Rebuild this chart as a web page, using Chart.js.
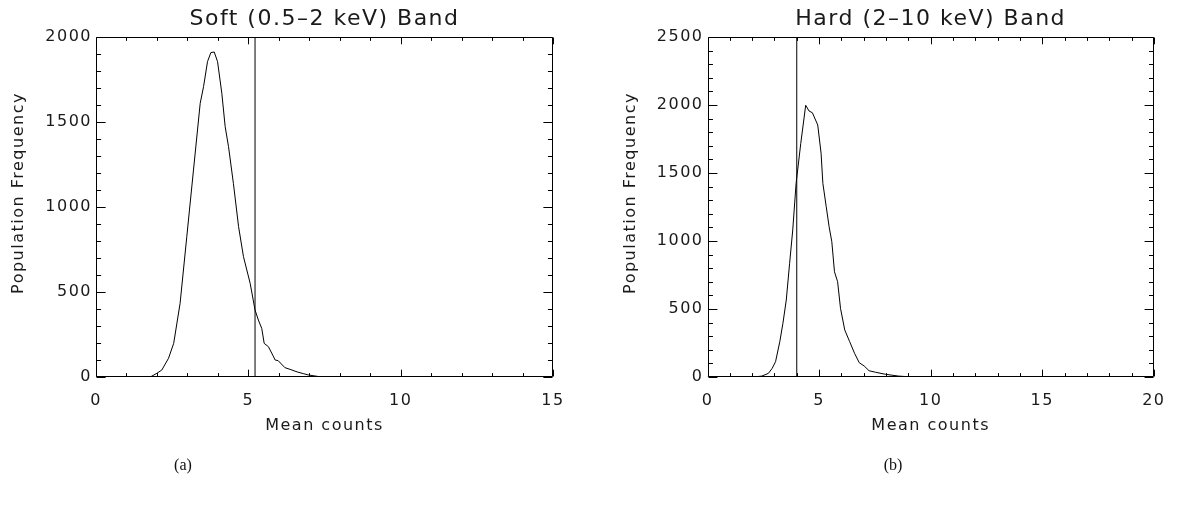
<!DOCTYPE html>
<html><head><meta charset="utf-8">
<script src="https://cdn.jsdelivr.net/npm/chart.js@4"></script>
<style>
html,body{margin:0;padding:0;background:#fff;}
#wrap{position:relative;width:1178px;height:512px;overflow:hidden;background:#fff;}
.pane{position:absolute;top:0;width:589px;height:512px;}
.cap{position:absolute;top:456px;font-family:"Liberation Serif","DejaVu Serif",serif;font-size:16px;color:#111;transform:translateX(-50%);}
</style></head><body>
<div id="wrap">
<div class="pane" style="left:0"><canvas id="c1" width="589" height="512"></canvas></div>
<div class="pane" style="left:589px"><canvas id="c2" width="589" height="512"></canvas></div>
<div class="cap" style="left:183px">(a)</div>
<div class="cap" style="left:893px">(b)</div>
</div>
<script>
// ---- Data ----
const softMeanCounts = [0, 1.78, 2.0, 2.16, 2.38, 2.55, 2.76, 2.98, 3.2, 3.42, 3.53, 3.66, 3.77, 3.88, 3.99, 4.13, 4.24, 4.35, 4.51, 4.68, 4.84, 5.06, 5.22, 5.33, 5.44, 5.52, 5.66, 5.8, 5.88, 5.98, 6.2, 6.37, 6.6, 6.8, 6.97, 7.4, 13.2];
const softFrequency  = [0, 0, 22, 41, 110, 198, 433, 825, 1218, 1610, 1708, 1855, 1908, 1912, 1855, 1669, 1472, 1355, 1139, 884, 708, 551, 394, 335, 286, 198, 178, 129, 100, 96, 55, 45, 30, 20, 12, 0, 0];
const softThreshold = 5.22;

const hardMeanCounts = [0, 2.07, 2.44, 2.73, 2.9, 3.05, 3.24, 3.38, 3.53, 3.68, 3.82, 3.97, 4.04, 4.18, 4.4, 4.55, 4.7, 4.94, 5.09, 5.17, 5.32, 5.45, 5.57, 5.69, 5.83, 5.96, 6.15, 6.37, 6.59, 6.8, 7.02, 7.24, 7.53, 7.97, 8.55, 9.14, 9.6];
const hardFrequency  = [0, 0, 7, 27, 64, 113, 260, 395, 566, 836, 1081, 1424, 1522, 1718, 1998, 1956, 1943, 1853, 1645, 1424, 1252, 1105, 995, 774, 701, 505, 346, 260, 174, 105, 81, 46, 35, 20, 7, 0, 0];
const hardThreshold = 4.0;

const softXTicks = [0, 5, 10, 15];
const softYTicks = [0, 500, 1000, 1500, 2000];
const hardXTicks = [0, 5, 10, 15, 20];
const hardYTicks = [0, 500, 1000, 1500, 2000, 2500];

const softTitle = "Soft (0.5\u20132 keV) Band";
const hardTitle = "Hard (2\u201310 keV) Band";
const xTitle = "Mean counts";
const yTitle = "Population Frequency";

// ---- Rendering ----
const FONT = "'DejaVu Sans', 'Noto Sans', sans-serif";
const TXT = "#1a1a1a";

const framePlugin = {
  id: 'idlFrame',
  beforeDraw(chart) { chart.ctx.letterSpacing = '1.5px'; },
  afterDatasetsDraw(chart, args, o) {
    const {ctx, chartArea: a, scales: {x, y}} = chart;
    const L = Math.round(a.left) + 0.5, R = Math.round(a.right) - 0.5;
    const T = Math.round(a.top) + 0.5, B = Math.round(a.bottom) - 0.5;
    const h = a.bottom - a.top, w = a.right - a.left;
    ctx.save();
    ctx.strokeStyle = '#000';
    ctx.lineWidth = 1;
    ctx.beginPath();
    ctx.rect(L, T, R - L, B - T);
    for (let v = x.min; v <= x.max + 1e-9; v += o.xMinor) {
      const px = Math.round(x.getPixelForValue(v)) + 0.5;
      const major = Math.abs(v / o.xMajor - Math.round(v / o.xMajor)) < 1e-6;
      const len = (major ? 0.02 : 0.01) * h;
      ctx.moveTo(px, B); ctx.lineTo(px, B - len);
      ctx.moveTo(px, T); ctx.lineTo(px, T + len);
    }
    for (let v = y.min; v <= y.max + 1e-9; v += o.yMinor) {
      const py = Math.round(y.getPixelForValue(v)) + 0.5;
      const major = Math.abs(v / o.yMajor - Math.round(v / o.yMajor)) < 1e-6;
      const len = (major ? 0.02 : 0.01) * w;
      ctx.moveTo(L, py); ctx.lineTo(L + len, py);
      ctx.moveTo(R, py); ctx.lineTo(R - len, py);
    }
    ctx.stroke();
    ctx.fillStyle = TXT;
    ctx.font = "16px " + FONT;
    ctx.textAlign = 'center';
    ctx.textBaseline = 'middle';
    ctx.translate(a.left - 77, (a.top + a.bottom) / 2 - 14);
    ctx.rotate(-Math.PI / 2);
    ctx.fillText(o.yTitle, 0, 0);
    ctx.restore();
  }
};

function makeChart(id, xs, ys, thr, title, xTicks, yTicks, yWidth, padRight) {
  const pts = xs.map((v, i) => ({x: v, y: ys[i]}));
  const yMax = yTicks[yTicks.length - 1];
  return new Chart(document.getElementById(id), {
    type: 'line',
    data: {
      datasets: [
        { data: pts, borderColor: '#000', borderWidth: 1, pointRadius: 0, tension: 0, fill: false },
        { data: [{x: thr, y: 0}, {x: thr, y: yMax}], borderColor: '#000', borderWidth: 1, pointRadius: 0, fill: false }
      ]
    },
    options: {
      responsive: false,
      animation: false,
      events: [],
      layout: { padding: { left: 0, right: padRight, top: 0, bottom: 76.4 } },
      plugins: {
        legend: { display: false },
        tooltip: { enabled: false },
        title: { display: true, fullSize: false, text: title, color: TXT,
                 font: { family: FONT, size: 22, weight: 'normal' },
                 padding: { top: 6, bottom: 4.6 } },
        idlFrame: { xMinor: 1, xMajor: 5, yMinor: 100, yMajor: 500, yTitle: yTitle }
      },
      scales: {
        x: {
          type: 'linear', min: xTicks[0], max: xTicks[xTicks.length - 1],
          afterBuildTicks: s => { s.ticks = xTicks.map(v => ({value: v})); },
          afterFit: s => { s.height = 58.6; },
          grid: { display: false, drawTicks: false },
          border: { display: false },
          ticks: { color: TXT, font: { family: FONT, size: 16 }, padding: 14, maxRotation: 0, autoSkip: false,
                   callback: v => String(v) },
          title: { display: true, text: xTitle, color: TXT, font: { family: FONT, size: 16 },
                   padding: { top: 5.5, bottom: 0 } }
        },
        y: {
          type: 'linear', min: yTicks[0], max: yMax,
          afterBuildTicks: s => { s.ticks = yTicks.map(v => ({value: v})); },
          afterFit: s => { s.width = yWidth; },
          grid: { display: false, drawTicks: false },
          border: { display: false },
          ticks: { color: TXT, font: { family: FONT, size: 16 }, padding: 4, autoSkip: false,
                   callback: v => String(v) }
        }
      }
    },
    plugins: [framePlugin]
  });
}

makeChart('c1', softMeanCounts, softFrequency, softThreshold, softTitle, softXTicks, softYTicks, 96, 36);
makeChart('c2', hardMeanCounts, hardFrequency, hardThreshold, hardTitle, hardXTicks, hardYTicks, 118.5, 13);
</script>
</body></html>
